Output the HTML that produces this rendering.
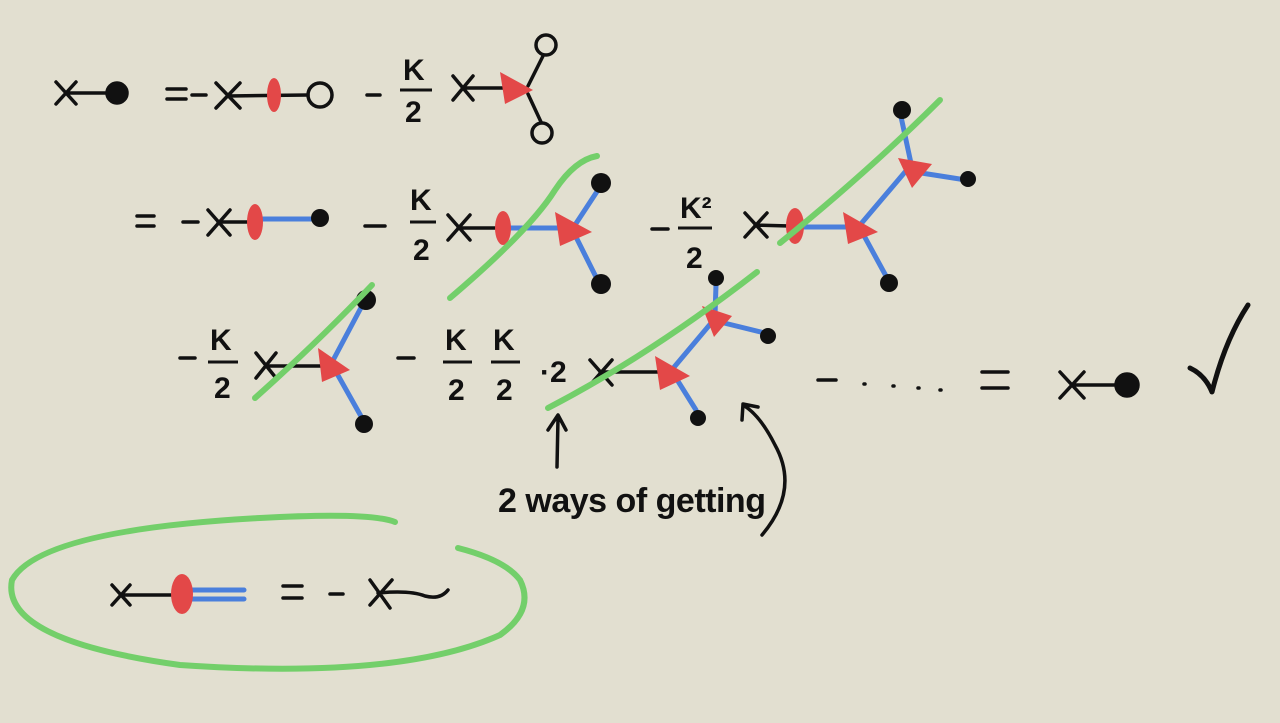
<!DOCTYPE html>
<html><head><meta charset="utf-8"><style>
html,body{margin:0;padding:0;background:#e2dfd0;}
svg{display:block}
text{font-family:"Liberation Sans",sans-serif;fill:#111;}
</style></head><body>
<svg width="1280" height="723" viewBox="0 0 1280 723">
<rect width="1280" height="723" fill="#e2dfd0"/>
<g stroke="#111" stroke-width="3.5" fill="none" stroke-linecap="round" stroke-linejoin="round">
<g>
<path d="M56 82 L76 104 M56 104 L76 82 M66 93 L115 93"/>
<circle cx="117" cy="93" r="10" fill="#111"/>
</g>
<path d="M167 89 H186 M167 99 H186 M192 95 H206"/>
<g>
<path d="M216 83 L240 108 M216 108 L240 83 M228 96 L308 95"/>
<circle cx="320" cy="95" r="12"/>
</g>
<path d="M367 95 H380"/>
<g>
<path d="M453 76 L473 100 M453 100 L473 76 M463 88 L505 88 M528 86 L543 56 M528 94 L541 122"/>
<circle cx="546" cy="45" r="10"/><circle cx="542" cy="133" r="10"/>
</g>
<path d="M137 216 H154 M137 226 H154 M183 222 H198"/>
<path d="M208 210 L230 235 M208 235 L230 210 M218 222 L250 222"/>
<path d="M365 226 H385"/>
<path d="M448 215 L470 240 M448 240 L470 215 M458 228 L500 228"/>
<path d="M652 229 H668"/>
<path d="M745 213 L767 237 M745 237 L767 213 M755 225 L790 226"/>
<path d="M180 358 H195"/>
<path d="M256 353 L276 378 M256 378 L276 353 M266 366 L325 366"/>
<path d="M398 358 H414"/>
<path d="M590 360 L612 385 M590 385 L612 360 M600 372 L660 372"/>
<path d="M818 380 H836 M864 384 h1 M893 386 h1 M918 388 h1 M940 390 h1 M982 372 H1008 M982 388 H1008"/>
<path d="M1060 372 L1084 398 M1060 398 L1084 372 M1072 385 L1120 385"/>
<circle cx="1127" cy="385" r="11" fill="#111"/>
<path d="M1190 368 Q1205 375 1212 392 Q1225 340 1248 305" stroke-width="5"/>
<path d="M557 467 L558 418 M548 430 L558 415 L566 430"/>
<path d="M762 535 Q800 490 775 445 Q760 415 743 405 M742 420 L743 404 L758 407"/>
<path d="M112 585 L130 605 M112 605 L130 585 M121 595 L178 595"/>
<path d="M283 586 H302 M283 598 H302 M330 594 H343"/>
<path d="M370 580 L390 608 M370 605 L392 580 M378 593 Q410 590 425 596 Q440 600 448 590"/>
</g>
<g font-size="30" font-weight="bold">
<text x="403" y="80">K</text><line x1="400" y1="90" x2="432" y2="90" stroke="#111" stroke-width="3"/><text x="405" y="122">2</text>
<text x="410" y="210">K</text><line x1="410" y1="222" x2="436" y2="222" stroke="#111" stroke-width="3"/><text x="413" y="260">2</text>
<text x="680" y="218">K²</text><line x1="678" y1="228" x2="712" y2="228" stroke="#111" stroke-width="3"/><text x="686" y="268">2</text>
<text x="210" y="350">K</text><line x1="208" y1="362" x2="238" y2="362" stroke="#111" stroke-width="3"/><text x="214" y="398">2</text>
<text x="445" y="350">K</text><line x1="443" y1="362" x2="472" y2="362" stroke="#111" stroke-width="3"/><text x="448" y="400">2</text>
<text x="493" y="350">K</text><line x1="491" y1="362" x2="520" y2="362" stroke="#111" stroke-width="3"/><text x="496" y="400">2</text>
<text x="540" y="382">·2</text>
</g>
<text x="498" y="512" font-size="34" font-weight="bold" textLength="268">2 ways of getting</text>
<g stroke="#4a7fdc" stroke-width="5" fill="none" stroke-linecap="round">
<path d="M258 219 L320 219"/>
<path d="M505 228 L570 228 M575 225 L598 190 M575 235 L596 277"/>
<path d="M795 227 L855 227 M860 225 L905 172 M912 168 L900 112 M915 172 L966 180 M862 232 L886 276"/>
<path d="M330 366 L364 302 M335 370 L362 418"/>
<path d="M670 372 L712 322 M715 315 L716 285 M720 322 L765 333 M676 378 L696 410"/>
<path d="M185 590 H244 M185 599 H244"/>
</g>
<g fill="#111">
<circle cx="320" cy="218" r="9"/><circle cx="601" cy="183" r="10"/><circle cx="601" cy="284" r="10"/>
<circle cx="902" cy="110" r="9"/><circle cx="968" cy="179" r="8"/><circle cx="889" cy="283" r="9"/>
<circle cx="366" cy="300" r="10"/><circle cx="364" cy="424" r="9"/>
<circle cx="716" cy="278" r="8"/><circle cx="768" cy="336" r="8"/><circle cx="698" cy="418" r="8"/>
</g>
<g fill="#e34848">
<ellipse cx="274" cy="95" rx="7" ry="17"/>
<path d="M500 72 L533 90 L505 104 Z"/>
<ellipse cx="255" cy="222" rx="8" ry="18"/>
<ellipse cx="503" cy="228" rx="8" ry="17"/>
<path d="M555 212 L592 232 L560 246 Z"/>
<ellipse cx="795" cy="226" rx="9" ry="18"/>
<path d="M843 212 L878 232 L848 244 Z"/>
<path d="M898 158 L932 164 L912 188 Z"/>
<path d="M318 348 L350 370 L322 382 Z"/>
<path d="M655 356 L690 376 L660 390 Z"/>
<path d="M702 306 L732 316 L714 337 Z"/>
<ellipse cx="182" cy="594" rx="11" ry="20"/>
</g>
<g stroke="#73cf6a" stroke-width="6" fill="none" stroke-linecap="round">
<path d="M450 298 Q530 230 555 190 Q575 160 597 156"/>
<path d="M780 243 Q870 170 940 100"/>
<path d="M255 398 Q320 340 372 285"/>
<path d="M548 408 Q650 355 757 272"/>
<path d="M395 522 Q370 512 260 518 Q40 530 12 580 Q0 640 180 665 Q400 680 500 635 Q535 610 520 580 Q505 560 458 548"/>
</g>
</svg>
</body></html>
